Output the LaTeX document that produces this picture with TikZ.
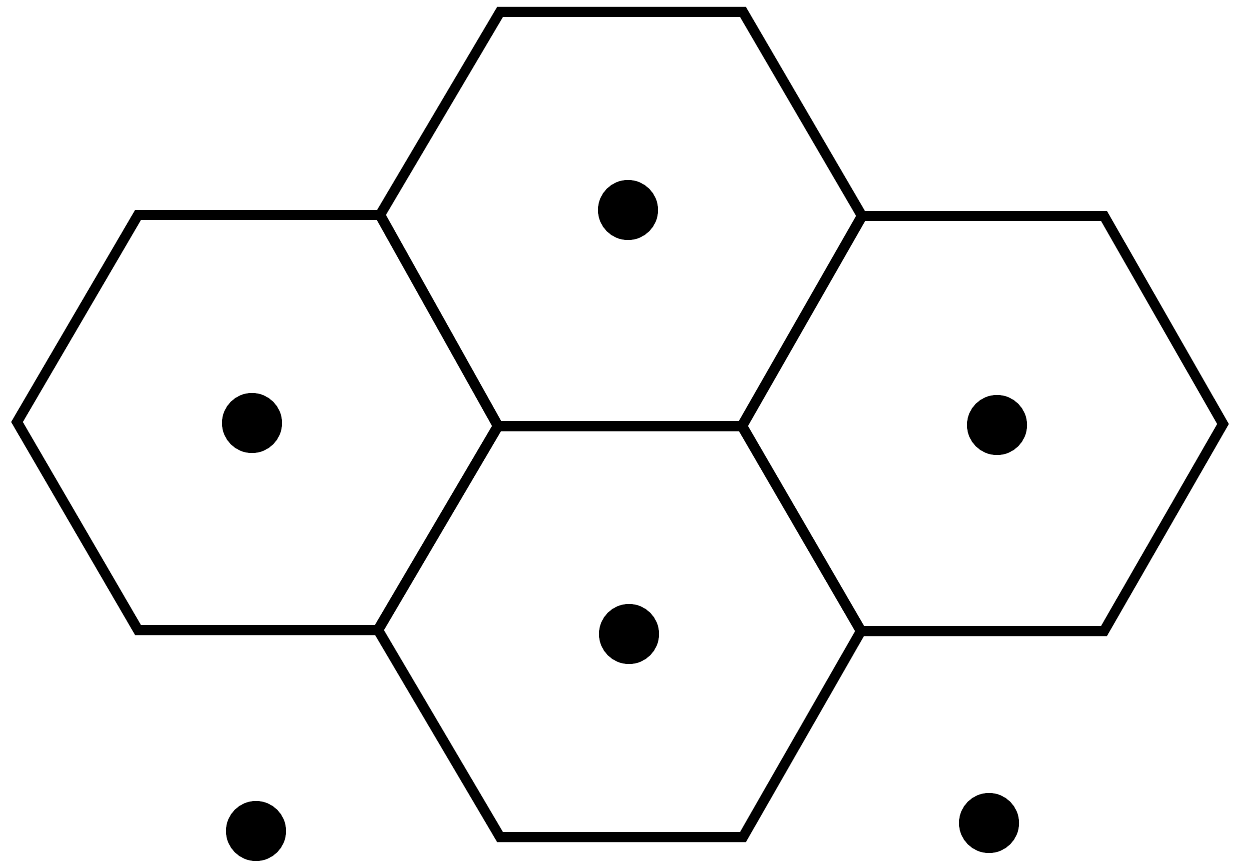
\documentclass[tikz,border=0pt]{standalone}
\begin{document}
\begin{tikzpicture}[x=0.02cm,y=-0.02cm,
  cell/.style={draw=black,line width=0.2cm,line join=miter},
  site/.style={circle,fill=black,inner sep=0pt,minimum size=1.2cm}]
\useasboundingbox (0,0) rectangle (1235,865);
% shared vertices
\coordinate (t1) at (500,12);
\coordinate (t2) at (743,12);
\coordinate (t3) at (862,216);
\coordinate (c2) at (742,426);
\coordinate (c1) at (498,426);
\coordinate (t6) at (380,215);
\coordinate (l1) at (138,215);
\coordinate (l6) at (17,422);
\coordinate (l5) at (138,630);
\coordinate (c3) at (378,630);
\coordinate (r2) at (1104,216);
\coordinate (r3) at (1223,424);
\coordinate (r4) at (1104,631);
\coordinate (c4) at (861,631);
\coordinate (b4) at (743,837);
\coordinate (b5) at (500,837);
% hexagonal cells
\draw[cell] (t1) -- (t2) -- (t3) -- (c2) -- (c1) -- (t6) -- cycle;
\draw[cell] (l1) -- (t6) -- (c1) -- (c3) -- (l5) -- (l6) -- cycle;
\draw[cell] (t3) -- (r2) -- (r3) -- (r4) -- (c4) -- (c2) -- cycle;
\draw[cell] (c1) -- (c2) -- (c4) -- (b4) -- (b5) -- (c3) -- cycle;
% sites
\node[site] (s1) at (628,210) {};
\node[site] (s2) at (252,423) {};
\node[site] (s3) at (997,425) {};
\node[site] (s4) at (629,634) {};
\node[site] (s5) at (256,831) {};
\node[site] (s6) at (989,823) {};
\end{tikzpicture}
\end{document}
